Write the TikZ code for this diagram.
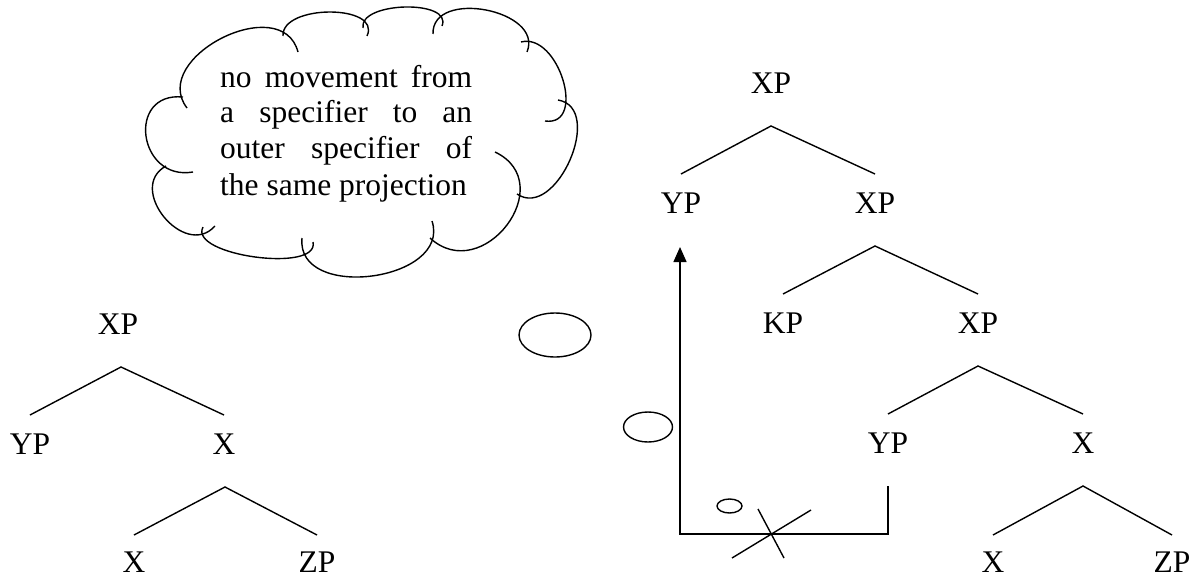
\documentclass[tikz,border=0pt]{standalone}
\usepackage{fontspec}
\setmainfont{Liberation Serif}
\usetikzlibrary{calc,arrows.meta}
\newcommand\cbump[3]{\draw[cloudline] (#1) .. controls ($0.4333*(#1)+1.3333*(#2)-0.7667*(#3)$) and ($0.4333*(#3)+1.3333*(#2)-0.7667*(#1)$) .. (#3);}
\begin{document}
\begin{tikzpicture}[x=1pt,y=-1pt,
  lab/.style={inner sep=0pt, font=\fontsize{31.5}{36}\selectfont},
  txt/.style={anchor=base west, inner sep=0pt, font=\fontsize{31.5}{36}\selectfont},
  branch/.style={line width=1.4pt},
  cloudline/.style={line width=1.4pt},
  bubble/.style={line width=1.4pt}]
\useasboundingbox (0,0) rectangle (1198,578);

% cloud
\cbump{187,108}{222,38}{298,52}
\cbump{283,36}{330,12}{367,36}
\cbump{363,28}{405,7}{442,26}
\cbump{433,34}{486,10}{527,52}
\cbump{521,42}{563,80}{545,121}
\cbump{558,100}{570,160}{517,194}
\cbump{495,152}{507,225}{430,238}
\cbump{432,221}{372,276}{302,238}
\cbump{313,242}{255,257}{203,227}
\cbump{215,226}{164,217}{166,166}
\cbump{193,172}{146,136}{183,97}

\node[txt] (c1) at (220,87) {\makebox[252pt][s]{no movement from}};
\node[txt] (c2) at (220,122) {\makebox[252pt][s]{a specifier to an}};
\node[txt] (c3) at (220,158) {\makebox[252pt][s]{outer specifier of}};
\node[txt] (c4) at (220,195) {the same projection};

% left tree
\node[lab] (lxp) at (118,324) {XP};
\node[lab] (lyp) at (30,444) {YP};
\node[lab] (lx) at (224,444) {X};
\node[lab] (lx2) at (134,562) {X};
\node[lab] (lzp) at (317,562) {ZP};
\draw[branch] ($(lyp)+(0,-29)$) -- ($(lxp)+(3,43)$) -- ($(lx)+(0,-29)$);
\draw[branch] ($(lx2)+(0,-27)$) -- ($(lx)+(1,43)$) -- ($(lzp)+(0,-27)$);

% right tree
\node[lab] (rxp1) at (771,83) {XP};
\node[lab] (ryp1) at (681,203) {YP};
\node[lab] (rxp2) at (875,203) {XP};
\node[lab] (rkp) at (783,323) {KP};
\node[lab] (rxp3) at (978,323) {XP};
\node[lab] (ryp2) at (888,443) {YP};
\node[lab] (rx1) at (1083,443) {X};
\node[lab] (rx2) at (993,562) {X};
\node[lab] (rzp) at (1172,562) {ZP};
\draw[branch] ($(ryp1)+(0,-29)$) -- ($(rxp1)+(0,43)$) -- ($(rxp2)+(0,-29)$);
\draw[branch] ($(rkp)+(0,-29)$) -- ($(rxp2)+(0,43)$) -- ($(rxp3)+(0,-29)$);
\draw[branch] ($(ryp2)+(0,-29)$) -- ($(rxp3)+(0,43)$) -- ($(rx1)+(0,-29)$);
\draw[branch] ($(rx2)+(0,-27)$) -- ($(rx1)+(0,43)$) -- ($(rzp)+(0,-27)$);

% movement arrow
\draw[branch,-{Triangle[length=15pt,width=13pt]}] ($(ryp2)+(0,43)$) -- ($(ryp2)+(0,91)$) -| ($(ryp1)+(-1,44)$);
% cross
\draw[branch] (732,558) -- (811,510);
\draw[branch] (758,509) -- (784,558);

% thought bubbles
\draw[bubble] (555,335) ellipse [x radius=36pt, y radius=22pt];
\draw[bubble] (648,427) ellipse [x radius=24.5pt, y radius=15pt];
\draw[bubble] (729.5,506) ellipse [x radius=12.5pt, y radius=7pt];
\end{tikzpicture}
\end{document}
